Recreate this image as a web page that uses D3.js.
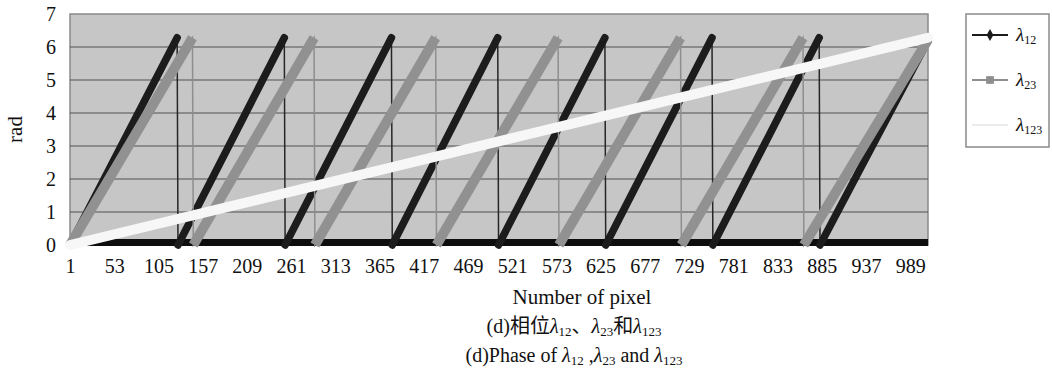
<!DOCTYPE html>
<html>
<head>
<meta charset="utf-8">
<script src="https://cdn.jsdelivr.net/npm/d3@7"></script>
<style>
body { margin: 0; background: #fff; }
text { font-family: "Liberation Serif", "Times New Roman", "Noto Sans CJK SC", serif; fill: #111; }
</style>
</head>
<body>
<script>
var width = 1052, height = 380;
//Category labels shown under the x axis (every 52nd pixel).
var xTickValues = [1, 53, 105, 157, 209, 261, 313, 365, 417, 469, 521, 573, 625, 677, 729, 781, 833, 885, 937, 989];
var yTickValues = [0, 1, 2, 3, 4, 5, 6, 7];
//Wrapped phase, read as [pixel, rad] at each ramp start and peak.
var lambda12 = [[1, 0], [127, 6.28], [128, 0], [253, 6.28], [254, 0], [379, 6.28], [380, 0], [504, 6.28], [505, 0],
	[630, 6.28], [631, 0], [756, 6.28], [757, 0], [882, 6.28], [883, 0], [1010, 6.2]];
var lambda23 = [[1, 0], [145, 6.28], [146, 0], [288, 6.28], [289, 0], [431, 6.28], [432, 0], [575, 6.28], [576, 0],
	[719, 6.28], [720, 0], [863, 6.28], [864, 0], [1010, 6.22]];
var lambda123 = [[1, 0], [1010, 6.28]];

var margin = {top: 14, left: 70};
var innerWidth = 858, innerHeight = 231;

var svg = d3.select('body').append('svg')
	.attr('width', width)
	.attr('height', height);
var inner = svg.append('g')
	.attr('transform', 'translate(' + margin.left + ',' + margin.top + ')');

var xScale = d3.scaleLinear().domain([1, 1010]).range([0, innerWidth]);
var yScale = d3.scaleLinear().domain([0, 7]).range([innerHeight, 0]);

//Plot area and horizontal grid.
inner.append('rect')
	.attr('width', innerWidth)
	.attr('height', innerHeight)
	.style('fill', '#c6c6c6')
	.style('stroke', '#8a8a8a')
	.style('stroke-width', '1.5px');
inner.selectAll('.grid').data(yTickValues.slice(1, -1)).enter().append('line')
	.attr('class', 'grid')
	.attr('x1', 0).attr('x2', innerWidth)
	.attr('y1', function(d) { return yScale(d); })
	.attr('y2', function(d) { return yScale(d); })
	.style('stroke', '#505050')
	.style('stroke-width', '1.2px');
//Heavy dark floor along zero.
inner.append('rect')
	.attr('x', 0)
	.attr('y', yScale(0) - 6)
	.attr('width', innerWidth)
	.attr('height', 7)
	.style('fill', '#0d0d0d');

//Axes: labels only.
inner.append('g')
	.call(d3.axisLeft(yScale).tickValues(yTickValues).tickFormat(d3.format('d')).tickSize(0).tickPadding(14));
inner.append('g')
	.attr('transform', 'translate(0,' + innerHeight + ')')
	.call(d3.axisBottom(xScale).tickValues(xTickValues).tickFormat(d3.format('d')).tickSize(0).tickPadding(14));
svg.selectAll('.domain').remove();
svg.selectAll('.tick text')
	.style('font-family', '"Liberation Serif", serif')
	.style('font-size', '20px')
	.style('fill', '#111');

var line = d3.line()
	.x(function(d) { return xScale(d[0]); })
	.y(function(d) { return yScale(d[1]); });

//Thin path through every vertex (shows the drops), thick strokes where the markers pile up on the ramps.
function drawSeries(data, color, thinColor, thick, cap) {
	inner.append('path').datum(data)
		.attr('d', line)
		.style('fill', 'none')
		.style('stroke', thinColor)
		.style('stroke-width', '1.5px');
	var ramps = d3.range(0, data.length - 1, 2).map(function(i) { return [data[i], data[i + 1]]; });
	inner.selectAll(null).data(ramps).enter().append('path')
		.attr('d', line)
		.style('fill', 'none')
		.style('stroke', color)
		.style('stroke-width', thick + 'px')
		.style('stroke-linecap', cap);
}
drawSeries(lambda12, '#1c1c1c', '#262626', 7.5, 'round');
drawSeries(lambda23, '#919191', '#8e8e8e', 10, 'butt');
drawSeries(lambda123, '#f7f7f7', '#f7f7f7', 10, 'round');

//Writes "λ" + subscript into a text element.
function lambda(textSel, sub, size) {
	textSel.append('tspan').style('font-style', 'italic').text('λ');
	textSel.append('tspan')
		.attr('baseline-shift', '-25%')
		.style('font-size', Math.round(size * 0.65) + 'px')
		.text(sub);
}

//Axis titles.
svg.append('text')
	.attr('transform', 'translate(22,' + (margin.top + innerHeight / 2) + ') rotate(-90)')
	.attr('text-anchor', 'middle')
	.style('font-size', '21px')
	.text('rad');
svg.append('text')
	.attr('x', 582).attr('y', 304)
	.attr('text-anchor', 'middle')
	.style('font-size', '21px')
	.text('Number of pixel');

var cap1 = svg.append('text')
	.attr('x', 574).attr('y', 333)
	.attr('text-anchor', 'middle')
	.style('font-size', '20px');
cap1.append('tspan').text('(d)相位');
lambda(cap1, '12', 20);
cap1.append('tspan').text('、');
lambda(cap1, '23', 20);
cap1.append('tspan').text('和');
lambda(cap1, '123', 20);

var cap2 = svg.append('text')
	.attr('x', 574).attr('y', 362)
	.attr('text-anchor', 'middle')
	.style('font-size', '20px');
cap2.append('tspan').text('(d)Phase of ');
lambda(cap2, '12', 20);
cap2.append('tspan').text(' ,');
lambda(cap2, '23', 20);
cap2.append('tspan').text(' and ');
lambda(cap2, '123', 20);

//Legend.
var legendItems = [
	{name: '12', color: '#1c1c1c', marker: 'diamond'},
	{name: '23', color: '#8e8e8e', marker: 'square'},
	{name: '123', color: '#ececec', marker: 'none'}
];
var legend = svg.append('g').attr('transform', 'translate(966,14)');
legend.append('rect')
	.attr('width', 83)
	.attr('height', 133)
	.style('fill', '#fff')
	.style('stroke', '#8a8a8a')
	.style('stroke-width', '1.5px');
var li = legend.selectAll('.item').data(legendItems).enter().append('g')
	.attr('class', 'item')
	.attr('transform', function(d, i) { return 'translate(0,' + (21 + i * 45) + ')'; });
li.append('line')
	.attr('x1', 6).attr('x2', 42)
	.style('stroke', function(d) { return d.color; })
	.style('stroke-width', '2px');
li.filter(function(d) { return d.marker == 'diamond'; }).append('path')
	.attr('d', d3.symbol(d3.symbolDiamond, 40)())
	.attr('transform', 'translate(24,0)')
	.style('fill', function(d) { return d.color; });
li.filter(function(d) { return d.marker == 'square'; }).append('path')
	.attr('d', d3.symbol(d3.symbolSquare, 60)())
	.attr('transform', 'translate(24,0)')
	.style('fill', function(d) { return d.color; });
li.each(function(d) {
	var t = d3.select(this).append('text')
		.attr('x', 50).attr('y', 6)
		.style('font-size', '19px');
	lambda(t, d.name, 19);
});
</script>
</body>
</html>
